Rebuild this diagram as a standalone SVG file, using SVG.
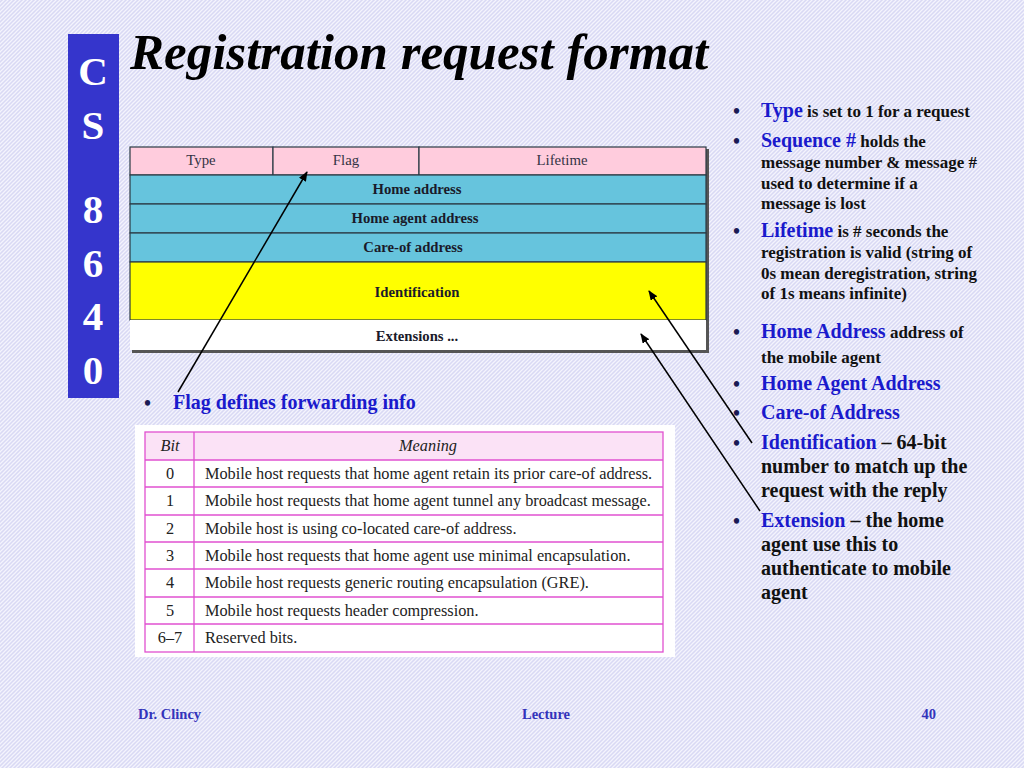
<svg xmlns="http://www.w3.org/2000/svg" width="1024" height="768" viewBox="0 0 1024 768">
<defs>
<pattern id="hatch" patternUnits="userSpaceOnUse" width="4" height="4">
<rect width="4" height="4" fill="#d9d9f4"/>
<path d="M-1,1 L1,-1 M0,4 L4,0 M3,5 L5,3" stroke="#f4f4fd" stroke-width="1.3"/>
</pattern>
<marker id="arr" markerWidth="10" markerHeight="8" refX="9" refY="4" orient="auto" markerUnits="userSpaceOnUse">
<path d="M0,0 L10,4 L0,8 z" fill="#000"/>
</marker>
</defs>
<style>
.t{font-family:"Liberation Serif","Times New Roman",serif}
.side{font-family:"Liberation Serif",serif;font-weight:bold;font-size:41px;fill:#fff;text-anchor:middle}
.fh{font-family:"Liberation Serif",serif;font-size:14.8px;fill:#333344;text-anchor:middle}
.fb{font-family:"Liberation Serif",serif;font-size:14.7px;font-weight:bold;fill:#1a1a2a;text-anchor:middle}
.cell{stroke:#2a3a44;stroke-width:1.2}
.bt{font-family:"Liberation Serif",serif;font-size:16.3px;fill:#222}
.bn{font-family:"Liberation Serif",serif;font-size:16.3px;fill:#222;text-anchor:middle}
.bl{stroke:#e050d0;stroke-width:1.3;fill:none}
.rb{font-family:"Liberation Serif",serif;font-weight:bold;font-size:17px;fill:#111}
.rk{font-family:"Liberation Serif",serif;font-weight:bold;font-size:20px;fill:#111}
.blue{fill:#1a1acc}
.bu{font-family:"Liberation Serif",serif;font-size:20px;font-weight:bold;fill:#1a1a55}
.ft{font-family:"Liberation Serif",serif;font-weight:bold;font-size:14.5px;fill:#3333bb}
.ln{stroke:#000;stroke-width:1.5;fill:none}
</style>
<rect width="1024" height="768" fill="url(#hatch)"/>

<g id="sidebar">
<rect x="68" y="34" width="51" height="364" fill="#3535cc"/>
<text class="side" x="93" y="85">C</text>
<text class="side" x="93" y="139">S</text>
<text class="side" x="93" y="223">8</text>
<text class="side" x="93" y="277">6</text>
<text class="side" x="93" y="330">4</text>
<text class="side" x="93" y="384">0</text>
</g>

<g id="title">
<text class="t" x="130" y="69" font-size="51" font-weight="bold" font-style="italic" fill="#000">Registration request format</text>
</g>

<g id="format-table">
<rect x="132" y="149" width="577" height="204" fill="#555"/>
<rect class="cell" x="130" y="147" width="143" height="28" fill="#ffccdd"/>
<rect class="cell" x="273" y="147" width="146" height="28" fill="#ffccdd"/>
<rect class="cell" x="419" y="147" width="287" height="28" fill="#ffccdd"/>
<rect class="cell" x="130" y="175" width="576" height="29" fill="#66c4dd"/>
<rect class="cell" x="130" y="204" width="576" height="29" fill="#66c4dd"/>
<rect class="cell" x="130" y="233" width="576" height="29" fill="#66c4dd"/>
<rect class="cell" x="130" y="262" width="576" height="58" fill="#ffff00" stroke="#666633"/>
<rect x="130" y="320" width="576" height="30" fill="#ffffff"/>
<text class="fh" x="201" y="165">Type</text>
<text class="fh" x="346" y="165">Flag</text>
<text class="fh" x="562" y="165">Lifetime</text>
<text class="fb" x="417" y="194">Home address</text>
<text class="fb" x="415" y="223">Home agent address</text>
<text class="fb" x="413" y="252">Care-of address</text>
<text class="fb" x="417" y="297">Identification</text>
<text class="fb" x="417" y="341">Extensions ...</text>
</g>

<g id="flag-bullet">
<text class="bu" x="144" y="410">•</text>
<text class="t" x="173" y="409" font-size="20" font-weight="bold" fill="#1a1acc">Flag defines forwarding info</text>
</g>

<g id="bit-table">
<rect x="135" y="425" width="540" height="232" fill="#ffffff"/>
<rect x="145" y="432" width="518" height="28" fill="#fbe2f6"/>
<rect class="bl" x="145" y="432" width="518" height="220"/>
<line class="bl" x1="194" y1="432" x2="194" y2="652"/>
<line class="bl" x1="145" y1="460" x2="663" y2="460"/>
<line class="bl" x1="145" y1="487" x2="663" y2="487"/>
<line class="bl" x1="145" y1="515" x2="663" y2="515"/>
<line class="bl" x1="145" y1="542" x2="663" y2="542"/>
<line class="bl" x1="145" y1="569" x2="663" y2="569"/>
<line class="bl" x1="145" y1="597" x2="663" y2="597"/>
<line class="bl" x1="145" y1="624" x2="663" y2="624"/>
<text class="bn" x="170" y="451" font-style="italic" fill="#4a2a4a">Bit</text>
<text class="bn" x="428" y="451" font-style="italic" fill="#4a2a4a">Meaning</text>
<text class="bn" x="170" y="479">0</text>
<text class="bt" x="205" y="479">Mobile host requests that home agent retain its prior care-of address.</text>
<text class="bn" x="170" y="506">1</text>
<text class="bt" x="205" y="506">Mobile host requests that home agent tunnel any broadcast message.</text>
<text class="bn" x="170" y="534">2</text>
<text class="bt" x="205" y="534">Mobile host is using co-located care-of address.</text>
<text class="bn" x="170" y="561">3</text>
<text class="bt" x="205" y="561">Mobile host requests that home agent use minimal encapsulation.</text>
<text class="bn" x="170" y="588">4</text>
<text class="bt" x="205" y="588">Mobile host requests generic routing encapsulation (GRE).</text>
<text class="bn" x="170" y="616">5</text>
<text class="bt" x="205" y="616">Mobile host requests header compression.</text>
<text class="bn" x="170" y="643">6–7</text>
<text class="bt" x="205" y="643">Reserved bits.</text>
</g>

<g id="right-notes">
<text class="bu" x="733" y="118">•</text>
<text class="rb" x="761" y="117"><tspan class="blue" font-size="20">Type</tspan> is set to 1 for a request</text>
<text class="bu" x="733" y="148">•</text>
<text class="rb" x="761" y="147"><tspan class="blue" font-size="20">Sequence #</tspan> holds the</text>
<text class="rb" x="761" y="168">message number &amp; message #</text>
<text class="rb" x="761" y="189">used to determine if a</text>
<text class="rb" x="761" y="209">message is lost</text>
<text class="bu" x="733" y="238">•</text>
<text class="rb" x="761" y="237"><tspan class="blue" font-size="20">Lifetime</tspan> is # seconds the</text>
<text class="rb" x="761" y="258">registration is valid (string of</text>
<text class="rb" x="761" y="279">0s mean deregistration, string</text>
<text class="rb" x="761" y="299">of 1s means infinite)</text>
<text class="bu" x="733" y="339">•</text>
<text class="rb" x="761" y="338"><tspan class="blue" font-size="20">Home Address</tspan>  address of</text>
<text class="rb" x="761" y="363">the mobile agent</text>
<text class="bu" x="733" y="391">•</text>
<text class="rk blue" x="761" y="390">Home Agent Address</text>
<text class="bu" x="733" y="420">•</text>
<text class="rk blue" x="761" y="419">Care-of Address</text>
<text class="bu" x="733" y="450">•</text>
<text class="rk" x="761" y="449"><tspan class="blue">Identification</tspan> – 64-bit</text>
<text class="rk" x="761" y="473">number to match up the</text>
<text class="rk" x="761" y="497">request with the reply</text>
<text class="bu" x="733" y="528">•</text>
<text class="rk" x="761" y="527"><tspan class="blue">Extension</tspan> – the home</text>
<text class="rk" x="761" y="551">agent use this to</text>
<text class="rk" x="761" y="575">authenticate to mobile</text>
<text class="rk" x="761" y="599">agent</text>
</g>

<g id="connectors">
<line class="ln" x1="178" y1="392" x2="307" y2="172" marker-end="url(#arr)"/>
<line class="ln" x1="752" y1="443" x2="649" y2="291" marker-end="url(#arr)"/>
<line class="ln" x1="760" y1="511" x2="641" y2="334" marker-end="url(#arr)"/>
</g>

<g id="footer">
<text class="ft" x="138" y="719">Dr. Clincy</text>
<text class="ft" x="546" y="719" text-anchor="middle">Lecture</text>
<text class="ft" x="936" y="719" text-anchor="end">40</text>
</g>
</svg>
